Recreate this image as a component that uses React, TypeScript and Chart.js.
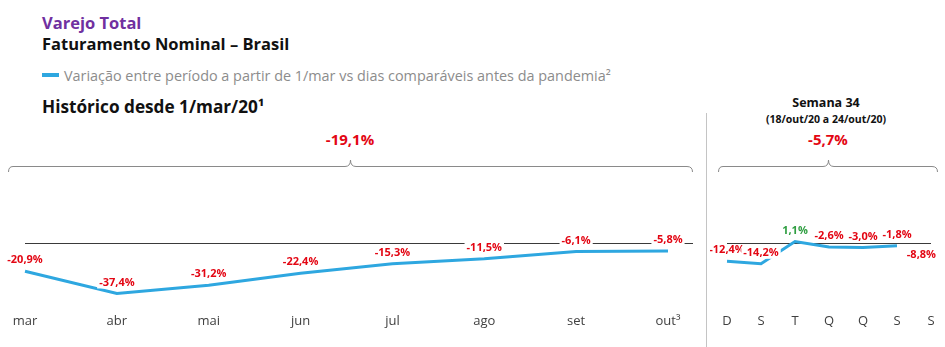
import React, { useEffect, useRef } from "react";
import { Chart, registerables } from "chart.js";
Chart.register(...registerables);

const monthLabels = ["mar", "abr", "mai", "jun", "jul", "ago", "set", "out³"];
const monthValues = [-20.9, -37.4, -31.2, -22.4, -15.3, -11.5, -6.1, -5.8];
const dayLabels = ["D", "S", "T", "Q", "Q", "S", "S"];
const dayValues = [-12.4, -14.2, 1.1, -2.6, -3.0, -1.8, -8.8];
const periodTotal = "-19,1%";
const weekTotal = "-5,7%";

const FONT = "'Open Sans', sans-serif";
const BLUE = "#2ea7e0";
const RED = "#e30613";
const GREEN = "#2f9e41";

const fmt = (v: number) => v.toFixed(1).replace(".", ",") + "%";

const valuePlugin = {
  id: "valueLabels",
  beforeDatasetsDraw(chart: any, _a: any, opts: any) {
    const { ctx, chartArea } = chart;
    const y0 = Math.round(chart.scales.y.getPixelForValue(0)) + 0.5;
    ctx.save();
    ctx.strokeStyle = "#3a3a3a";
    ctx.lineWidth = 1;
    ctx.beginPath();
    ctx.moveTo(chartArea.left, y0);
    ctx.lineTo(chartArea.right + (opts.extendRight || 0), y0);
    ctx.stroke();
    ctx.restore();
  },
  afterDatasetsDraw(chart: any, _a: any, opts: any) {
    const { ctx } = chart;
    const meta = chart.getDatasetMeta(0);
    const data = chart.data.datasets[0].data as number[];
    ctx.save();
    ctx.font = `bold 11px ${FONT}`;
    ctx.textBaseline = "middle";
    meta.data.forEach((pt: any, i: number) => {
      const v = data[i];
      const txt = fmt(v);
      const w = ctx.measureText(txt).width;
      let x = pt.x;
      let y = pt.y - 11;
      let align: CanvasTextAlign = "center";
      if (opts.asideLast && i === data.length - 1) {
        align = "right";
        x = pt.x + 5;
        y = pt.y - 1;
      }
      const left = align === "center" ? x - w / 2 : x - w;
      ctx.fillStyle = "#ffffff";
      ctx.fillRect(left - 2, y - 6, w + 4, 12);
      ctx.fillStyle = v >= 0 ? GREEN : RED;
      ctx.textAlign = align;
      ctx.fillText(txt, x, y);
    });
    ctx.restore();
  },
};

function makeConfig(labels: string[], values: number[], yMin: number, yMax: number, padding: any, extra: any) {
  return {
    type: "line" as const,
    data: {
      labels,
      datasets: [
        {
          data: values,
          borderColor: BLUE,
          borderWidth: 3,
          pointRadius: 0,
          tension: 0,
          fill: false,
          segment: extra.hideLast
            ? { borderColor: (c: any) => (c.p1DataIndex === values.length - 1 ? "rgba(0,0,0,0)" : BLUE) }
            : undefined,
        },
      ],
    },
    options: {
      responsive: false,
      animation: false,
      devicePixelRatio: 1,
      layout: { padding },
      plugins: {
        legend: { display: false },
        tooltip: { enabled: false },
        valueLabels: extra.plugin,
      },
      scales: {
        x: {
          offset: false,
          grid: { display: false, drawTicks: false },
          border: { display: false },
          ticks: { color: "#404040", font: { family: FONT, size: 13 }, padding: 10, autoSkip: false, maxRotation: 0 },
        },
        y: { display: false, min: yMin, max: yMax },
      },
    },
    plugins: [valuePlugin],
  };
}

function LineChart(props: { labels: string[]; values: number[]; w: number; h: number; yMin: number; yMax: number; padding: any; extra: any }) {
  const ref = useRef<HTMLCanvasElement>(null);
  useEffect(() => {
    const c = new Chart(ref.current as HTMLCanvasElement, makeConfig(props.labels, props.values, props.yMin, props.yMax, props.padding, props.extra) as any);
    return () => c.destroy();
  }, []);
  return <canvas ref={ref} width={props.w} height={props.h} style={{ width: props.w, height: props.h, display: "block" }} />;
}

const txt = (top: number, left: number, size: number, color: string, weight: number, extra: any = {}) => ({
  position: "absolute" as const,
  top,
  left,
  fontSize: size,
  lineHeight: `${Math.round(size * 1.3)}px`,
  color,
  fontWeight: weight,
  fontFamily: FONT,
  whiteSpace: "nowrap" as const,
  ...extra,
});

export default function App() {
  return (
    <div style={{ position: "absolute", top: 0, left: 0, width: 945, height: 347, background: "#fff", overflow: "hidden" }}>
      <div style={txt(12, 42, 16.5, "#7030a0", 700)}>Varejo Total</div>
      <div style={txt(33, 42, 16.5, "#111", 700)}>Faturamento Nominal – Brasil</div>
      <div style={{ position: "absolute", left: 42, top: 73, width: 17, height: 4, background: BLUE }} />
      <div style={txt(66, 64, 14.4, "#8c8c8c", 400)}>Variação entre período a partir de 1/mar vs dias comparáveis antes da pandemia²</div>
      <div style={txt(96, 42, 17.2, "#111", 700)}>Histórico desde 1/mar/20¹</div>
      <div style={txt(129, 250, 15, RED, 700, { width: 200, textAlign: "center" })}>{periodTotal}</div>

      <div style={txt(95, 726, 12.5, "#111", 700, { width: 200, textAlign: "center" })}>Semana 34</div>
      <div style={txt(112, 726, 10.5, "#111", 700, { width: 200, textAlign: "center" })}>(18/out/20 a 24/out/20)</div>
      <div style={txt(129, 728, 15, RED, 700, { width: 200, textAlign: "center" })}>{weekTotal}</div>

      <svg width={945} height={347} style={{ position: "absolute", top: 0, left: 0 }}>
        <g fill="none" stroke="#8a8a8a" strokeWidth={1}>
          <path d="M8.5 172 Q8.5 166.5 13 166.5 L345 166.5 Q350.5 166.5 350.5 160 Q350.5 166.5 356 166.5 L687 166.5 Q692.5 166.5 692.5 172" />
          <path d="M718.5 172 Q718.5 166.5 723 166.5 L823 166.5 Q828.5 166.5 828.5 160 Q828.5 166.5 834 166.5 L932 166.5 Q937.5 166.5 937.5 172" />
        </g>
        <line x1={706.5} y1={113} x2={706.5} y2={347} stroke="#c4c4c4" strokeWidth={1} />
      </svg>

      <div style={{ position: "absolute", left: 0, top: 180 }}>
        <LineChart
          labels={monthLabels}
          values={monthValues}
          w={705}
          h={160}
          yMin={-44.8}
          yMax={30}
          padding={{ left: 25, right: 37, top: 23, bottom: 1 }}
          extra={{ plugin: { extendRight: 25 } }}
        />
      </div>
      <div style={{ position: "absolute", left: 710, top: 180 }}>
        <LineChart
          labels={dayLabels}
          values={dayValues}
          w={235}
          h={160}
          yMin={-41.4}
          yMax={27.6}
          padding={{ left: 17, right: 14, top: 23, bottom: 1 }}
          extra={{ plugin: { extendRight: 0, asideLast: true }, hideLast: true }}
        />
      </div>
    </div>
  );
}
